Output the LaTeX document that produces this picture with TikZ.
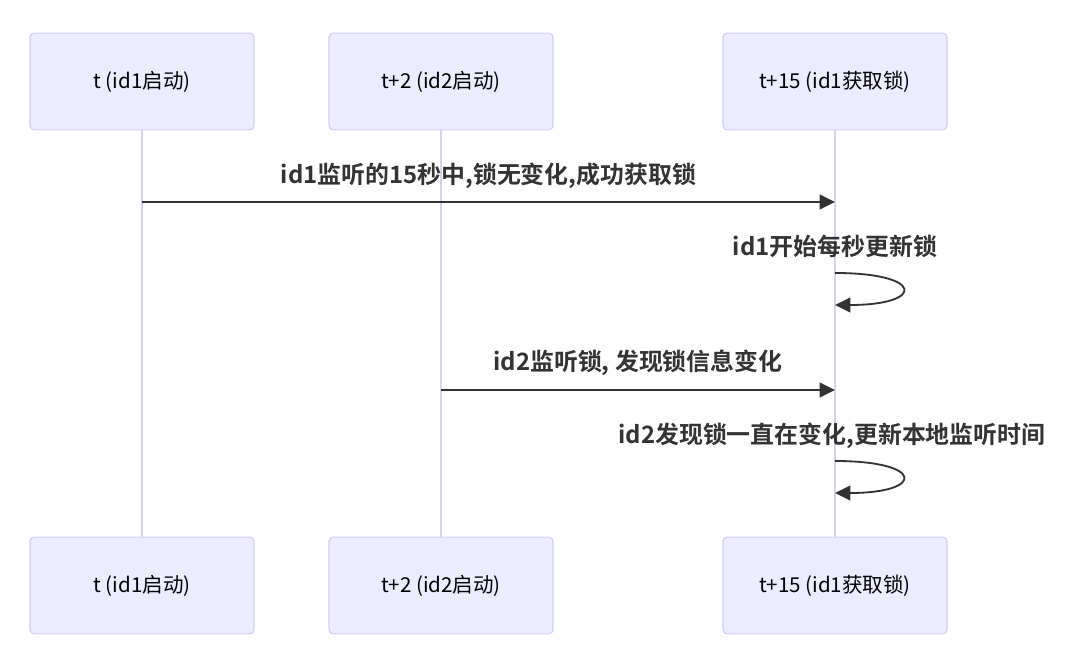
\documentclass[tikz,border=0pt]{standalone}
\usepackage{fontspec}
\setmainfont{Noto Sans CJK SC}[BoldFont={Noto Sans CJK SC Bold}]
\usetikzlibrary{arrows.meta,positioning}
\definecolor{actorfill}{HTML}{ECECFF}
\definecolor{actorline}{HTML}{D6CCF5}
\definecolor{lifeline}{HTML}{D9D0F7}
\definecolor{msgcol}{HTML}{333333}
\tikzset{
        % Participant boxes
        node_actor/.style={rectangle, rounded corners=3pt, fill=actorfill, draw=actorline, line width=0.8pt,
                minimum width=5.6cm, minimum height=2.42cm, inner sep=0pt, font=\fontsize{14.6}{17}\selectfont, text=black},
        % Message labels
        node_msg/.style={inner sep=0pt, font=\fontsize{17}{20}\selectfont\bfseries, text=msgcol},
        % Lifelines
        line_life/.style={draw=lifeline, line width=1.5pt},
        % Message arrows
        line_msg/.style={draw=msgcol, line width=1.3pt, -{Triangle[length=11pt,width=10.5pt]}}
}
\begin{document}
\begin{tikzpicture}[x=0.025cm, y=-0.025cm]
    \useasboundingbox (0,0) rectangle (1080,661);
    % participants, top row
    \node[node_actor] (a_top) at (142,81.5) {t (id1启动)};
    \node[node_actor] (b_top) at (441,81.5) {t+2 (id2启动)};
    \node[node_actor] (c_top) at (835,81.5) {t+15 (id1获取锁)};
    % participants, bottom row
    \node[node_actor] (a_bot) at (142,585.5) {t (id1启动)};
    \node[node_actor] (b_bot) at (441,585.5) {t+2 (id2启动)};
    \node[node_actor] (c_bot) at (835,585.5) {t+15 (id1获取锁)};
    % lifelines
    \draw[line_life] (a_top) -- (a_bot);
    \draw[line_life] (b_top) -- (b_bot);
    \draw[line_life] (c_top) -- (c_bot);
    % points on the lifelines
    \coordinate (a_m1) at (142,202);
    \coordinate (c_m1) at (835,202);
    \coordinate (c_l1s) at (835,273);
    \coordinate (c_l1e) at (835,305);
    \coordinate (b_m2) at (441,390);
    \coordinate (c_m2) at (835,390);
    \coordinate (c_l2s) at (835,461);
    \coordinate (c_l2e) at (835,493);
    % messages
    \draw[line_msg] (a_m1) -- (c_m1);
    \node[node_msg] (msg1) at (488.5,176) {id1监听的15秒中,锁无变化,成功获取锁};
    \draw[line_msg] (c_l1s) .. controls +(90,0) and +(90,0) .. (c_l1e);
    \node[node_msg] (msg2) at (835,246) {id1开始每秒更新锁};
    \draw[line_msg] (b_m2) -- (c_m2);
    \node[node_msg] (msg3) at (638,363) {id2监听锁, 发现锁信息变化};
    \draw[line_msg] (c_l2s) .. controls +(90,0) and +(90,0) .. (c_l2e);
    \node[node_msg] (msg4) at (832,436) {id2发现锁一直在变化,更新本地监听时间};
\end{tikzpicture}
\end{document}
